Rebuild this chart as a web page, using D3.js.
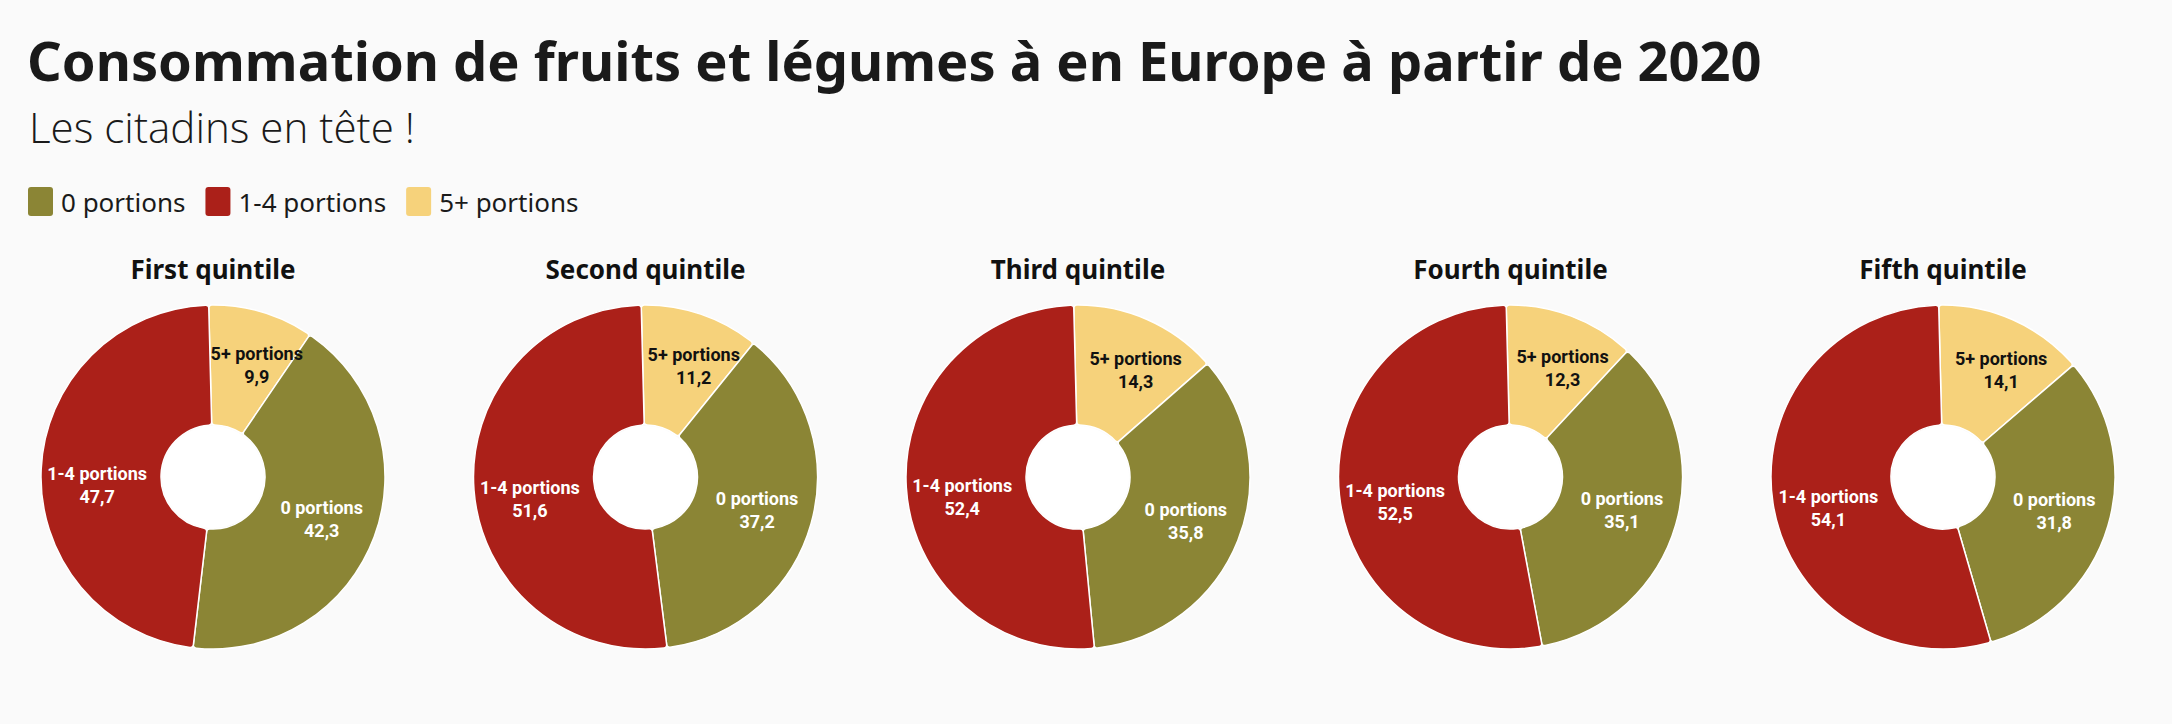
<!DOCTYPE html>
<html lang="fr">
<head>
<meta charset="UTF-8">
<title>Consommation de fruits et légumes</title>
<script src="https://d3js.org/d3.v7.min.js"></script>
<style>
  body { margin: 0; background: #fafafa; }
  svg { display: block; font-family: "Noto Sans", "Open Sans", sans-serif; }
  .title { font-size: 54px; font-weight: 700; fill: #1a1a1a; }
  .subtitle { font-family: "Open Sans", "Noto Sans", sans-serif; font-size: 37px; font-weight: 300; fill: #1a1a1a; }
  .legend-text { font-size: 26px; font-weight: 400; fill: #1a1a1a; }
  .pie-title { font-size: 26px; font-weight: 700; fill: #111; text-anchor: middle; }
  .slice-label { font-family: Roboto, "Noto Sans", sans-serif; font-size: 18px; font-weight: 700; text-anchor: middle; }
</style>
</head>
<body>
<div id="chart"></div>
<script>
// données
const quintiles = ["First quintile", "Second quintile", "Third quintile", "Fourth quintile", "Fifth quintile"];
const categories = ["5+ portions", "0 portions", "1-4 portions"]; // ordre dans le donut
const legendOrder = ["0 portions", "1-4 portions", "5+ portions"];
const fivePlus = [9.9, 11.2, 14.3, 12.3, 14.1];
const zeroPortions = [42.3, 37.2, 35.8, 35.1, 31.8];
const oneToFour = [47.7, 51.6, 52.4, 52.5, 54.1];

const width = 2172, height = 724;
const svg = d3.select("#chart").append("svg")
  .attr("width", width).attr("height", height);

svg.append("rect").attr("width", width).attr("height", height).attr("fill", "#fafafa");

const color = d3.scaleOrdinal()
  .domain(legendOrder)
  .range(["#8b8535", "#ab2019", "#f6d27b"]);
const labelColor = c => c === "5+ portions" ? "#111" : "#fff";

// ajuste la taille de police pour tenir la largeur voulue
function fitWidth(sel, target) {
  const w = sel.node().getComputedTextLength();
  const fs = parseFloat(getComputedStyle(sel.node()).fontSize);
  sel.style("font-size", (fs * target / w) + "px");
}

// titre
const title = svg.append("text").attr("class", "title").attr("x", 27).attr("y", 81)
  .text("Consommation de fruits et légumes à en Europe à partir de 2020");
fitWidth(title, 1735);
const subtitle = svg.append("text").attr("class", "subtitle").attr("x", 29).attr("y", 143)
  .text("Les citadins en tête !");
fitWidth(subtitle, 386);

// légende
const legend = svg.append("g").attr("transform", "translate(28,187)");
let lx = 0;
legendOrder.forEach(c => {
  const g = legend.append("g").attr("transform", `translate(${lx},0)`);
  g.append("rect").attr("width", 25).attr("height", 29).attr("rx", 3).attr("fill", color(c));
  const t = g.append("text").attr("class", "legend-text").attr("x", 33).attr("y", 25).text(c);
  lx += 33 + t.node().getComputedTextLength() + 20;
});

// donuts
const rows = quintiles.map((q, i) => ({
  name: q,
  values: [
    { cat: "5+ portions", v: fivePlus[i] },
    { cat: "0 portions", v: zeroPortions[i] },
    { cat: "1-4 portions", v: oneToFour[i] }
  ]
}));

const x = d3.scalePoint().domain(quintiles).range([213, 1943]);
const cy = 477, rOuter = 172, rInner = 52;

const pie = d3.pie().sort(null).value(d => d.v)
  .startAngle(-0.025).endAngle(2 * Math.PI - 0.025);
const arc = d3.arc().innerRadius(rInner).outerRadius(rOuter).cornerRadius(3);
const labelArc = d3.arc().innerRadius(66).outerRadius(166);
const fmt = v => d3.format(".1f")(v).replace(".", ",");
// petit décalage des étiquettes [dx, dy]
const labelShift = { "5+ portions": [11, -2], "0 portions": [0, 0], "1-4 portions": [0, 12] };

const charts = svg.selectAll("g.donut").data(rows).join("g")
  .attr("class", "donut")
  .attr("transform", d => `translate(${x(d.name)},${cy})`);

charts.append("text").attr("class", "pie-title").attr("y", 279 - cy).text(d => d.name);

charts.selectAll("path").data(d => pie(d.values)).join("path")
  .attr("d", arc)
  .attr("fill", d => color(d.data.cat))
  .attr("stroke", "#fff").attr("stroke-width", 1.5);

charts.append("circle").attr("r", rInner - 1).attr("fill", "#fff");

const labels = charts.selectAll("g.lbl").data(d => pie(d.values)).join("g")
  .attr("class", "lbl")
  .attr("transform", d => {
    const [lx, ly] = labelArc.centroid(d);
    const [sx, sy] = labelShift[d.data.cat];
    return `translate(${lx + sx},${ly + sy})`;
  });
labels.append("text").attr("class", "slice-label").attr("y", -4)
  .attr("fill", d => labelColor(d.data.cat)).text(d => d.data.cat);
labels.append("text").attr("class", "slice-label").attr("y", 19)
  .attr("fill", d => labelColor(d.data.cat)).text(d => fmt(d.data.v));
</script>
</body>
</html>
